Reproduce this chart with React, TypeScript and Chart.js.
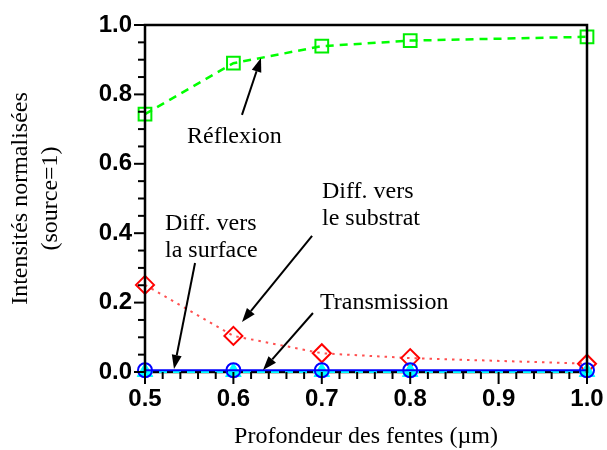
import React, { useEffect, useRef } from "react";
import { Chart, registerables } from "chart.js";

Chart.register(...registerables);

// ---- data ----
const depths = [0.5, 0.6, 0.7, 0.8, 1.0];
const reflexion = [0.743, 0.89, 0.939, 0.955, 0.966];
const diffSubstrat = [0.251, 0.104, 0.054, 0.04, 0.024];
const diffSurface = [0.005, 0.005, 0.005, 0.005, 0.005];
const transmission = [0, 0, 0, 0, 0];

const xMajorTicks = [0.5, 0.6, 0.7, 0.8, 0.9, 1.0];
const yMajorTicks = [0.0, 0.2, 0.4, 0.6, 0.8, 1.0];

const xTitle = "Profondeur des fentes (µm)";
const yTitle = ["Intensités normalisées", "(source=1)"];

// annotation texts (data coordinates: x, baseline y of first line)
const labelTexts = [
  { lines: ["Réflexion"], x: 0.5475, y: 0.66 },
  { lines: ["Diff. vers", "le substrat"], x: 0.7002, y: 0.5014 },
  { lines: ["Diff. vers", "la surface"], x: 0.5226, y: 0.409 },
  { lines: ["Transmission"], x: 0.698, y: 0.1816 },
];
// arrows: from (tail) -> to (head) in data coordinates
const arrows = [
  { from: [0.6097, 0.741], to: [0.6312, 0.905] },
  { from: [0.689, 0.392], to: [0.6097, 0.144] },
  { from: [0.5566, 0.314], to: [0.5328, 0.0086] },
  { from: [0.69, 0.17], to: [0.6335, 0.0058] },
];

const isMajor = (v: number, majors: number[]) =>
  majors.some((m) => Math.abs(m - v) < 1e-6);

const framePlugin = {
  id: "framePlugin",
  beforeDatasetsDraw(chart: any) {
    const { ctx, chartArea } = chart;
    ctx.save();
    ctx.strokeStyle = "#000";
    ctx.lineWidth = 2.5;
    ctx.beginPath();
    ctx.moveTo(chartArea.left, chartArea.bottom);
    ctx.lineTo(chartArea.right, chartArea.bottom);
    ctx.stroke();
    ctx.restore();
  },
  afterDatasetsDraw(chart: any) {
    const { ctx, chartArea } = chart;
    const { left, right, top, bottom } = chartArea;
    ctx.save();
    ctx.strokeStyle = "#000";
    ctx.lineWidth = 2.5;
    ctx.beginPath();
    ctx.moveTo(left, bottom + 1);
    ctx.lineTo(left, top);
    ctx.lineTo(right, top);
    ctx.lineTo(right, bottom + 1);
    ctx.stroke();

    ctx.lineWidth = 2;
    const xs = chart.scales.x;
    xs.ticks.forEach((t: any) => {
      const px = xs.getPixelForValue(t.value);
      const len = isMajor(t.value, xMajorTicks) ? 12 : 7;
      ctx.beginPath();
      ctx.moveTo(px, bottom);
      ctx.lineTo(px, bottom + len);
      ctx.stroke();
    });
    const ys = chart.scales.y;
    ys.ticks.forEach((t: any) => {
      const py = ys.getPixelForValue(t.value);
      const len = isMajor(t.value, yMajorTicks) ? 11 : 7;
      ctx.beginPath();
      ctx.moveTo(left - len, py);
      ctx.lineTo(left + 1, py);
      ctx.stroke();
    });
    ctx.restore();
  },
  afterDraw(chart: any) {
    const { ctx } = chart;
    const xs = chart.scales.x;
    const ys = chart.scales.y;
    ctx.save();
    ctx.fillStyle = "#000";
    ctx.strokeStyle = "#000";
    ctx.font = '24px "Liberation Serif"';
    ctx.textAlign = "left";
    ctx.textBaseline = "alphabetic";
    labelTexts.forEach((l) => {
      const px = xs.getPixelForValue(l.x);
      const py = ys.getPixelForValue(l.y);
      l.lines.forEach((line, i) => ctx.fillText(line, px, py + i * 27));
    });
    arrows.forEach((a) => {
      const x1 = xs.getPixelForValue(a.from[0]);
      const y1 = ys.getPixelForValue(a.from[1]);
      const x2 = xs.getPixelForValue(a.to[0]);
      const y2 = ys.getPixelForValue(a.to[1]);
      const ang = Math.atan2(y2 - y1, x2 - x1);
      const hl = 14;
      const hw = 5;
      const bx = x2 - hl * Math.cos(ang);
      const by = y2 - hl * Math.sin(ang);
      ctx.lineWidth = 2;
      ctx.beginPath();
      ctx.moveTo(x1, y1);
      ctx.lineTo(bx, by);
      ctx.stroke();
      ctx.beginPath();
      ctx.moveTo(x2, y2);
      ctx.lineTo(bx + hw * Math.sin(ang), by - hw * Math.cos(ang));
      ctx.lineTo(bx - hw * Math.sin(ang), by + hw * Math.cos(ang));
      ctx.closePath();
      ctx.fill();
    });
    ctx.restore();
  },
};

export default function App() {
  const canvasRef = useRef<HTMLCanvasElement | null>(null);

  useEffect(() => {
    const canvas = canvasRef.current;
    if (!canvas) return;
    const toPts = (vals: number[]) => depths.map((x, i) => ({ x, y: vals[i] }));
    const chart = new Chart(canvas, {
      type: "line",
      data: {
        datasets: [
          {
            label: "Diffraction vers la surface",
            data: toPts(diffSurface),
            borderColor: "#0000ff",
            borderWidth: 2,
            pointStyle: "circle",
            pointRadius: 7,
            pointBorderWidth: 2,
            pointBorderColor: "#0000ff",
            pointBackgroundColor: "rgba(0,0,0,0)",
            fill: false,
            clip: false as any,
            order: 0,
          },
          {
            label: "Transmission",
            data: toPts(transmission),
            borderColor: "#00ffff",
            borderWidth: 2,
            borderDash: [8, 6],
            pointStyle: "triangle",
            pointRadius: 9,
            pointBorderWidth: 1,
            pointBorderColor: "#00ffff",
            pointBackgroundColor: "#00ffff",
            fill: false,
            clip: false as any,
            order: 1,
          },
          {
            label: "Diffraction vers le substrat",
            data: toPts(diffSubstrat),
            borderColor: "#ff5050",
            borderWidth: 2,
            borderDash: [2.5, 5],
            pointStyle: "rectRot",
            pointRadius: 9,
            pointBorderWidth: 2,
            pointBorderColor: "#ff0000",
            pointBackgroundColor: "rgba(0,0,0,0)",
            fill: false,
            clip: false as any,
            order: 2,
          },
          {
            label: "Réflexion",
            data: toPts(reflexion),
            borderColor: "#00ff00",
            borderWidth: 2.5,
            borderDash: [8, 6],
            pointStyle: "rect",
            pointRadius: 9,
            pointBorderWidth: 2,
            pointBorderColor: "#00ee00",
            pointBackgroundColor: "rgba(0,0,0,0)",
            fill: false,
            clip: false as any,
            order: 3,
          },
        ],
      },
      options: {
        animation: false,
        responsive: false,
        maintainAspectRatio: false,
        layout: { padding: { left: 0, right: 20, top: 25, bottom: 0 } },
        plugins: {
          legend: { display: false },
          tooltip: { enabled: false },
        },
        scales: {
          x: {
            type: "linear",
            min: 0.5,
            max: 1.0,
            border: { display: false },
            grid: { display: false, drawTicks: false, tickLength: 0 },
            ticks: {
              stepSize: 0.02,
              autoSkip: false,
              maxRotation: 0,
              padding: 13,
              color: "#000",
              font: { family: "Liberation Sans", size: 24, weight: "bold" },
              callback: (v: any) =>
                isMajor(Number(v), xMajorTicks) ? Number(v).toFixed(1) : "",
            },
            title: {
              display: true,
              text: xTitle,
              color: "#000",
              font: { family: "Liberation Serif", size: 24, lineHeight: 1.0 },
              padding: { top: 0, bottom: 1 },
            },
            afterFit: (scale: any) => {
              scale.height = 78;
              scale.paddingLeft = 0;
              scale.paddingRight = 0;
            },
          },
          y: {
            type: "linear",
            min: 0,
            max: 1,
            border: { display: false },
            grid: { display: false, drawTicks: false, tickLength: 0 },
            ticks: {
              stepSize: 0.05,
              autoSkip: false,
              padding: 13,
              color: "#000",
              font: { family: "Liberation Sans", size: 24, weight: "bold" },
              callback: (v: any) =>
                isMajor(Number(v), yMajorTicks) ? Number(v).toFixed(1) : "",
            },
            title: {
              display: true,
              text: yTitle,
              color: "#000",
              font: { family: "Liberation Serif", size: 24, lineHeight: 1.25 },
              padding: { top: 6, bottom: 0 },
            },
            afterFit: (scale: any) => {
              scale.width = 145;
              scale.paddingTop = 0;
              scale.paddingBottom = 0;
            },
          },
        },
      },
      plugins: [framePlugin],
    });
    return () => chart.destroy();
  }, []);

  return (
    <div style={{ position: "absolute", left: 0, top: 0, width: 607, height: 450, background: "#fff" }}>
      <canvas ref={canvasRef} width={607} height={450} style={{ display: "block" }} />
    </div>
  );
}
